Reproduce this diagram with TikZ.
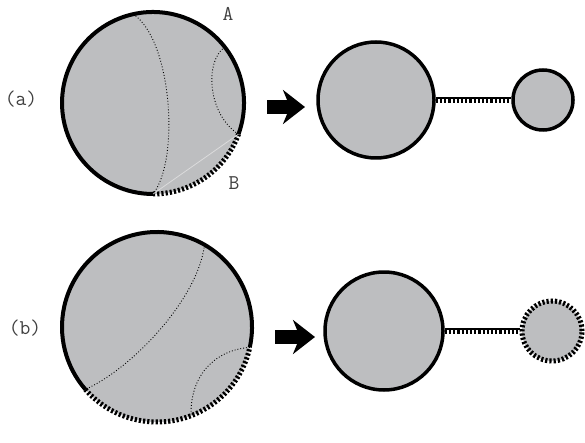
\documentclass[tikz,border=0pt]{standalone}
\usepackage{fontspec}
\usetikzlibrary{arrows.meta,calc,positioning}
\definecolor{disk}{RGB}{189,190,192}

\begin{document}
\begin{tikzpicture}[x=1pt,y=1pt,
				rim/.style={line width=4pt},
				cut/.style={line width=5pt, dash pattern=on 2.2pt off 2pt},
				geo/.style={line width=0.9pt, dotted},
				ball/.style={circle, draw, line width=3.5pt, fill=disk, inner sep=0pt},
				dball/.style={circle, draw, line width=5pt, dash pattern=on 2.2pt off 2pt, fill=disk, inner sep=0pt},
				lbl/.style={font=\ttfamily\fontsize{21}{24}\selectfont, text=black!75, inner sep=0pt},
				bigarrow/.style={line width=14pt, -{Stealth[length=22pt, width=34pt, inset=7pt]}}
				]
				\useasboundingbox (0,0) rectangle (585,442);

				% (a)
				\coordinate (ca) at (153,339);
				\fill[disk] (ca) circle (91);
				\draw[rim] ($(ca)+(-20:91)$) arc (-20:270:91);
				\draw[cut] ($(ca)+(-90:91)$) arc (-90:-20:91);
				\draw[disk!55!white, line width=0.8pt] ($(ca)+(-90:91)$) -- ($(ca)+(-20:91)$);
				\draw[geo] ($(ca)+(102.5:91)$) .. controls (172,402) and (180,282) .. ($(ca)+(-90:91)$);
				\draw[geo] ($(ca)+(38:91)$) .. controls (204,380) and (208,327) .. ($(ca)+(-20:91)$);
				\node[lbl] (la) at (21,343) {(a)};
				\node[lbl] (ptA) at (228,428) {A};
				\node[lbl] (ptB) at (234,259) {B};

				\coordinate (arrAs) at (267,335);
				\coordinate (arrAe) at (305,335);
				\draw[bigarrow] (arrAs) -- (arrAe);

				\node[ball, minimum size=116pt] (bigA) at (376,342) {};
				\node[ball, minimum size=60pt] (smallA) at (543,342) {};
				\draw[line width=2.5pt] ([yshift=2pt]bigA.east) -- ([yshift=2pt]smallA.west);
				\draw[line width=4pt, dash pattern=on 2.2pt off 2pt] ([yshift=-1.2pt]bigA.east) -- ([yshift=-1.2pt]smallA.west);

				% (b)
				\coordinate (cb) at (157,115);
				\fill[disk] (cb) circle (95);
				\draw[rim] ($(cb)+(-12.4:95)$) arc (-12.4:221:95);
				\draw[cut] ($(cb)+(221:95)$) arc (221:347.6:95);
				\draw[geo] ($(cb)+(60:95)$) .. controls (198,142) and (130,72) .. ($(cb)+(221:95)$);
				\draw[geo] ($(cb)+(-12.4:95)$) .. controls (215,92) and (190,67) .. ($(cb)+(-69:95)$);
				\node[lbl] (lb) at (25,114) {(b)};

				\coordinate (arrBs) at (275,105);
				\coordinate (arrBe) at (315,105);
				\draw[bigarrow] (arrBs) -- (arrBe);

				\node[ball, minimum size=118pt] (bigB) at (384,111) {};
				\node[dball, minimum size=60pt] (smallB) at (552,111) {};
				\draw[line width=2.5pt] ([yshift=2pt]bigB.east) -- ([yshift=2pt]smallB.west);
				\draw[line width=4pt, dash pattern=on 2.2pt off 2pt] ([yshift=-1.2pt]bigB.east) -- ([yshift=-1.2pt]smallB.west);
			\end{tikzpicture}
\end{document}
